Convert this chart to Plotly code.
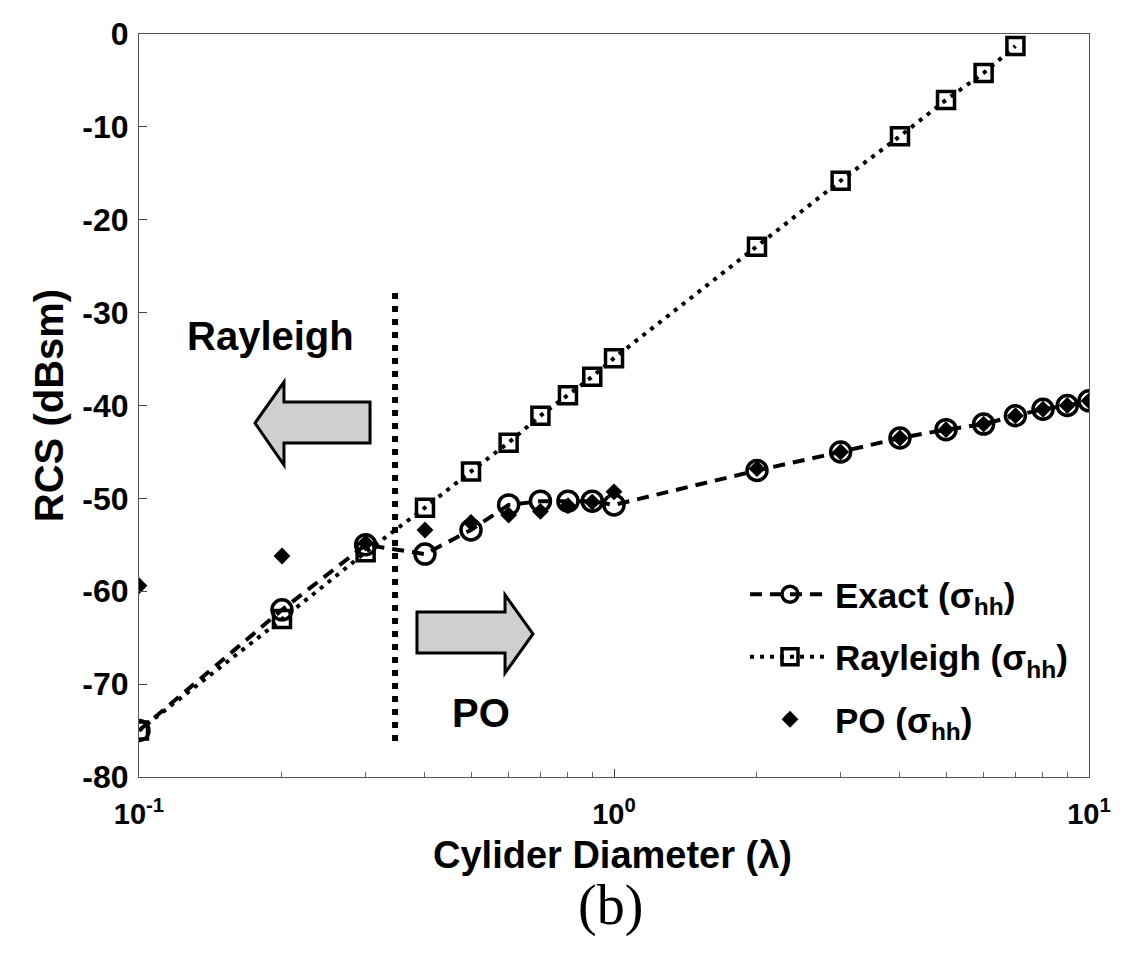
import plotly.graph_objects as go

# ---- data ----
diam = [0.1, 0.2, 0.3, 0.4, 0.5, 0.6, 0.7, 0.8, 0.9, 1.0,
        2, 3, 4, 5, 6, 7, 8, 9, 10]
exact_hh = [-75, -62, -55, -56.0, -53.4, -50.7, -50.3, -50.3, -50.3, -50.7,
            -47, -45, -43.5, -42.6, -42, -41.1, -40.4, -40, -39.5]
po_hh = [-59.4, -56.2, -54.8, -53.4, -52.6, -51.8, -51.4, -50.8, -50.4, -49.3,
         -46.8, -45, -43.5, -42.6, -42, -41.1, -40.4, -40, -39.5]
ray_diam = [0.1, 0.2, 0.3, 0.4, 0.5, 0.6, 0.7, 0.8, 0.9, 1.0, 2, 3, 4, 5, 6, 7]
rayleigh_hh = [-75, -63, -55.8, -51, -47.1, -44, -41.1, -38.9, -36.9, -34.9,
               -22.9, -15.8, -11, -7.1, -4.2, -1.3]
boundary_x = [0.346, 0.346]
boundary_y = [-27.9, -76.4]

xtick_vals = [0.1, 1, 10]
xtick_text = ["10<sup>-1</sup>", "10<sup>0</sup>", "10<sup>1</sup>"]
ytick_vals = [0, -10, -20, -30, -40, -50, -60, -70, -80]
ytick_text = ["0", "-10", "-20", "-30", "-40", "-50", "-60", "-70", "-80"]
minor_vals = [0.2, 0.3, 0.4, 0.5, 0.6, 0.7, 0.8, 0.9, 2, 3, 4, 5, 6, 7, 8, 9]

FONT = "Liberation Sans"

fig = go.Figure()

fig.add_trace(go.Scatter(
    x=boundary_x, y=boundary_y, mode="lines", showlegend=False,
    line=dict(color="black", width=6, dash="6px,7px"), hoverinfo="skip"))

fig.add_trace(go.Scatter(
    x=diam, y=exact_hh, mode="lines+markers", name="Exact (σ<sub>hh</sub>)",
    legendgroup="a",
    line=dict(color="black", width=4, dash="12px,8px"),
    marker=dict(symbol="circle-open", size=20, color="black",
                line=dict(width=3.5, color="black"))))

fig.add_trace(go.Scatter(
    x=ray_diam, y=rayleigh_hh, mode="lines+markers", name="Rayleigh (σ<sub>hh</sub>)",
    legendgroup="b",
    line=dict(color="black", width=4, dash="4px,6px"),
    marker=dict(symbol="square-open", size=17, color="black",
                line=dict(width=3.5, color="black"))))

fig.add_trace(go.Scatter(
    x=diam, y=po_hh, mode="markers", name="PO (σ<sub>hh</sub>)",
    legendgroup="c",
    marker=dict(symbol="diamond", size=13, color="black")))

# arrows (pixel -> paper helper)
L, R, T, B = 139, 1089, 34, 777
def px(xp, yp):
    return (xp - L) / (R - L), (B - yp) / (B - T)

def path(points):
    pts = [px(*p) for p in points]
    return "M " + " L ".join(f"{a:.4f},{b:.4f}" for a, b in pts) + " Z"

left_arrow = [(255, 423), (284, 382), (284, 402), (370, 402), (370, 443), (284, 443), (284, 465)]
right_arrow = [(533, 634), (505, 595), (505, 612), (417, 612), (417, 653), (505, 653), (505, 673)]
for arr in (left_arrow, right_arrow):
    fig.add_shape(type="path", path=path(arr), xref="paper", yref="paper",
                  fillcolor="#cfcfcf", line=dict(color="black", width=3))

ax, ay = px(270, 336)
fig.add_annotation(x=ax, y=ay, xref="paper", yref="paper", text="Rayleigh",
                   xanchor="center", yanchor="middle", showarrow=False,
                   font=dict(family=FONT, size=40, color="black", weight="bold"))
ax, ay = px(481, 713)
fig.add_annotation(x=ax, y=ay, xref="paper", yref="paper", text="PO",
                   xanchor="center", yanchor="middle", showarrow=False,
                   font=dict(family=FONT, size=40, color="black", weight="bold"))
ax, ay = px(612, 855)
fig.add_annotation(x=ax, y=ay, xref="paper", yref="paper", text="Cylider Diameter (λ)",
                   xanchor="center", yanchor="middle", showarrow=False,
                   font=dict(family=FONT, size=38, color="black", weight="bold"))
ax, ay = px(610, 906)
fig.add_annotation(x=ax, y=ay, xref="paper", yref="paper", text="(b)",
                   xanchor="center", yanchor="middle", showarrow=False,
                   font=dict(family="Liberation Serif", size=56, color="black"))

fig.update_layout(
    width=1130, height=959,
    margin=dict(l=L, r=1130 - R, t=T, b=959 - B),
    paper_bgcolor="white", plot_bgcolor="white",
    font=dict(family=FONT, color="black"),
    showlegend=True,
    legend=dict(x=px(745, 0)[0], y=px(0, 565)[1], xanchor="left", yanchor="top",
                bgcolor="rgba(0,0,0,0)", borderwidth=0,
                font=dict(family=FONT, size=35, color="black", weight="bold"),
                traceorder="grouped", tracegroupgap=14, itemwidth=80),
    xaxis=dict(type="log", range=[-1, 1], tickvals=xtick_vals, ticktext=xtick_text,
               ticks="inside", ticklen=8, tickcolor="#444", showgrid=False, zeroline=False,
               showline=True, linecolor="#555", linewidth=1.2, mirror=True,
               ticklabelstandoff=11,
               tickfont=dict(family=FONT, size=29, color="black", weight="bold"),
               minor=dict(tickvals=minor_vals, ticks="inside", ticklen=5, tickcolor="#666", showgrid=False)),
    yaxis=dict(range=[-80, 0], tickvals=ytick_vals, ticktext=ytick_text,
               ticks="inside", ticklen=8, tickcolor="#444", showgrid=False, zeroline=False,
               showline=True, linecolor="#555", linewidth=1.2, mirror=True,
               ticklabelstandoff=3,
               tickfont=dict(family=FONT, size=32, color="black", weight="bold"),
               title=dict(text="RCS (dBsm)", standoff=6,
                          font=dict(family=FONT, size=40, color="black", weight="bold"))),
)

fig.write_html("out.html")
